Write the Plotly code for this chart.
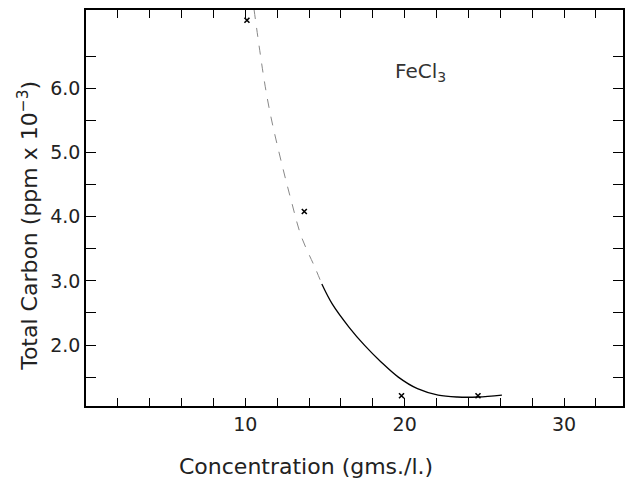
import plotly.graph_objects as go

# Measured data points (x markers)
conc = [10.1, 13.7, 19.8, 24.6]
carbon = [7.06, 4.08, 1.21, 1.21]

# Fitted curve: faint upper part and solid lower part
curve_up_x = [10.55, 11.2, 11.6, 12.3, 12.9, 13.5, 14.4, 14.8]
curve_up_y = [7.22, 6.1, 5.56, 4.81, 4.23, 3.7, 3.19, 2.95]
curve_lo_x = [14.8, 15.45, 16.5, 17.5, 18.5, 19.6, 20.8, 22.1, 23.3, 24.6, 26.1]
curve_lo_y = [2.95, 2.64, 2.28, 1.99, 1.74, 1.50, 1.32, 1.22, 1.19, 1.19, 1.22]

x_ticks = list(range(2, 34, 2))
x_labels = ["10" if v == 10 else "20" if v == 20 else "30" if v == 30 else "" for v in x_ticks]
y_ticks = [1.5, 2.0, 2.5, 3.0, 3.5, 4.0, 4.5, 5.0, 5.5, 6.0, 6.5]
y_labels = ["" if (v * 2) % 2 else f"{v:.1f}" for v in y_ticks]

FONT = "DejaVu Sans"

fig = go.Figure()
fig.add_trace(go.Scatter(x=curve_up_x, y=curve_up_y, mode="lines",
                         line=dict(color="#888888", width=1, dash="dash", shape="spline"),
                         showlegend=False, hoverinfo="skip"))
fig.add_trace(go.Scatter(x=curve_lo_x, y=curve_lo_y, mode="lines",
                         line=dict(color="black", width=1.3, shape="spline", smoothing=1.0),
                         showlegend=False, hoverinfo="skip"))
fig.add_trace(go.Scatter(x=conc, y=carbon, mode="markers",
                         marker=dict(symbol="x-thin", size=5, color="black",
                                     line=dict(color="black", width=1.6)),
                         showlegend=False))

axis_common = dict(showgrid=False, zeroline=False, showline=True, linecolor="black",
                   linewidth=1.5, ticks="inside", tickcolor="black", tickwidth=1.3,
                   mirror="ticks", tickfont=dict(family=FONT, size=19, color="#222"))

fig.update_xaxes(range=[0, 33.7], tickvals=x_ticks, ticktext=x_labels, ticklen=8, **axis_common)
fig.update_yaxes(range=[1.05, 7.22], tickvals=y_ticks, ticktext=y_labels, ticklen=10, **axis_common)

fig.add_annotation(text="FeCl<sub>3</sub>", x=21.0, y=6.25, xref="x", yref="y",
                   showarrow=False, font=dict(family=FONT, size=20, color="#333"))
fig.add_annotation(text="Total Carbon (ppm x 10<sup>\u22123</sup>)", x=-0.108, y=0.455,
                   xref="paper", yref="paper", xanchor="center", yanchor="middle",
                   textangle=-90, showarrow=False,
                   font=dict(family=FONT, size=22, color="#222"))
fig.add_annotation(text="Concentration (gms./l.)", x=0.41, y=-0.152,
                   xref="paper", yref="paper", xanchor="center", yanchor="middle",
                   showarrow=False, font=dict(family=FONT, size=22, color="#222"))

fig.update_layout(width=626, height=479, margin=dict(l=86, r=1, t=10, b=73),
                  paper_bgcolor="white", plot_bgcolor="white")

fig.write_html("out.html")
